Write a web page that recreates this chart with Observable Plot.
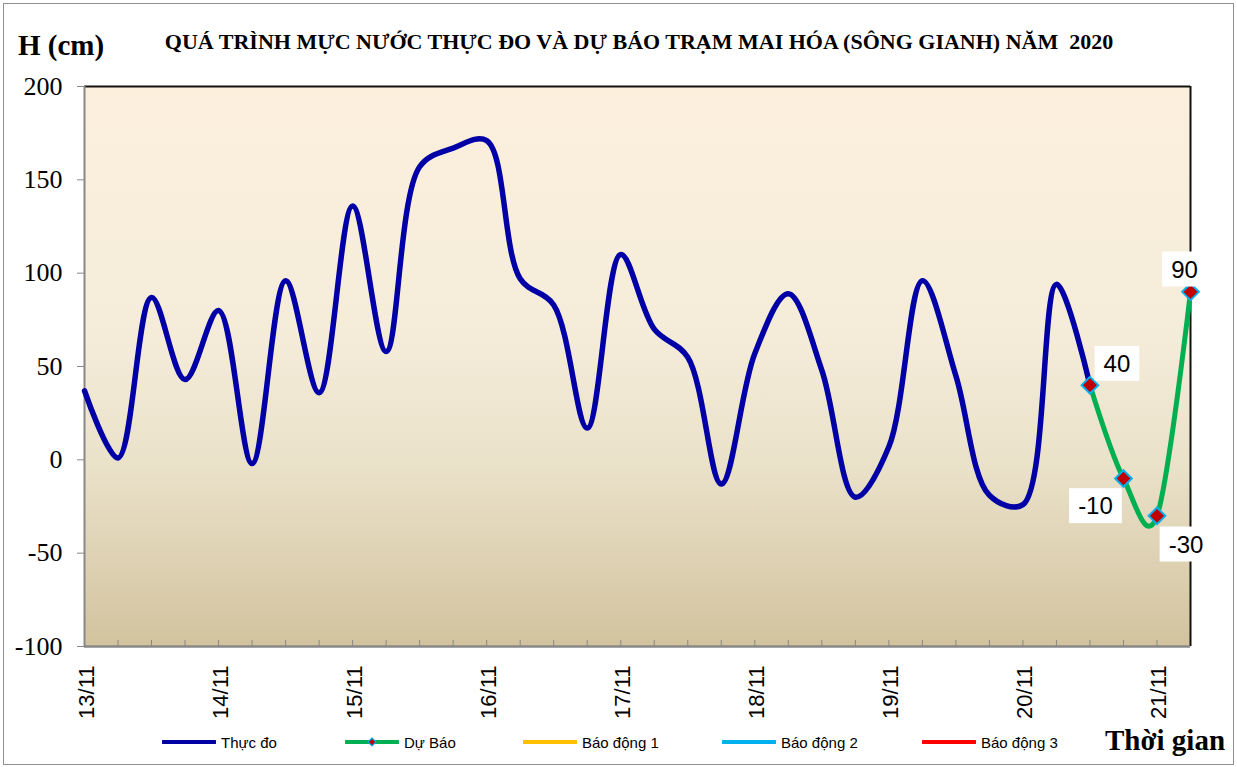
<!DOCTYPE html>
<html>
<head>
<meta charset="utf-8">
<script src="https://cdn.jsdelivr.net/npm/d3@7"></script>
<script src="https://cdn.jsdelivr.net/npm/@observablehq/plot@0.6"></script>
<style>
  body { margin: 0; background: #fff; }
  #wrap { position: relative; width: 1237px; height: 767px; overflow: hidden; background: #fff; }
  #frameBorder { position: absolute; left: 3px; top: 3px; width: 1231px; height: 762px; border: 1.5px solid #8f8f8f; box-sizing: border-box; pointer-events: none; }
  .serif { font-family: "Liberation Serif", "Times New Roman", serif; font-weight: bold; color: #000; line-height: 1; white-space: nowrap; position: absolute; }
  #ylabel { left: 18px; top: 31px; font-size: 29px; }
  #title { left: 639px; top: 31px; font-size: 22px; transform: translateX(-50%); }
  #chart { position: absolute; left: 0; top: 70px; }
  #legend { position: absolute; left: 0; top: 732px; width: 1237px; height: 20px; font-family: "Liberation Sans", Arial, sans-serif; font-size: 15px; color: #000; }
  .li { position: absolute; top: 0; height: 20px; display: flex; align-items: center; white-space: nowrap; }
  .li svg { margin-right: 5px; }
  #xlabel { left: 1105px; top: 726px; font-size: 29px; }
</style>
</head>
<body>
<svg width="0" height="0" style="position:absolute">
  <defs>
    <linearGradient id="bgGrad" x1="0" y1="0" x2="0" y2="1">
      <stop offset="0%" stop-color="#FCF0DD"/>
      <stop offset="45%" stop-color="#F4ECD9"/>
      <stop offset="68%" stop-color="#EAE1C9"/>
      <stop offset="100%" stop-color="#D2C39E"/>
    </linearGradient>
  </defs>
</svg>
<div id="wrap">
  <div id="ylabel" class="serif">H (cm)</div>
  <div id="title" class="serif">QUÁ TRÌNH MỰC NƯỚC THỰC ĐO VÀ DỰ BÁO TRẠM MAI HÓA (SÔNG GIANH) NĂM&nbsp; 2020</div>
  <div id="chart"></div>
  <div id="legend"></div>
  <div id="xlabel" class="serif">Thời gian</div>
  <div id="frameBorder"></div>
</div>
<script>
// ---- Data (6-hour steps starting 13/11 00h) ----
const dayLabels = ["13/11", "14/11", "15/11", "16/11", "17/11", "18/11", "19/11", "20/11", "21/11"];
const stepsPerDay = 4; // 6-hour steps
const observed = [37, 1, 87, 43, 80, -2, 96, 36, 136, 58, 157, 167, 171, 97, 83, 17,
                  110, 70, 55, -13, 57, 89, 48, -20, 7, 96, 45, -19, -24, 94, 40];
const forecastStart = 30; // step index of first forecast value (20/11 12h)
const forecast = [40, -10, -30, 90];
const yTicks = [-100, -50, 0, 50, 100, 150, 200];

const legendItems = [
  {name: "Thực đo", color: "#0000A6", marker: false, left: 162},
  {name: "Dự Báo", color: "#00B050", marker: true, left: 345},
  {name: "Báo động 1", color: "#FFC000", marker: false, left: 523},
  {name: "Báo động 2", color: "#00B0F0", marker: false, left: 722},
  {name: "Báo động 3", color: "#FF0000", marker: false, left: 922}
];

const obsData = observed.map((h, i) => ({step: i, h}));
const fcData = forecast.map((h, i) => ({step: forecastStart + i, h}));
const lastStep = (dayLabels.length - 1) * stepsPerDay + 1; // 33
const labelOffsets = [[27, -21], [-28, 28], [29, 29], [-6, -22]];

const plot = Plot.plot({
  width: 1237,
  height: 655,
  marginLeft: 84,
  marginRight: 47,
  marginTop: 16,
  marginBottom: 79,
  x: {domain: [0, lastStep]},
  y: {domain: [-100, 200]},
  style: {background: "transparent", overflow: "visible", fontFamily: "Liberation Serif, Times New Roman, serif", fontSize: "26px", color: "#000"},
  marks: [
    Plot.frame({fill: "url(#bgGrad)", stroke: null}),
    Plot.axisY({ticks: yTicks, tickSize: 7, tickPadding: 15, tickFormat: d => String(d), stroke: "#888", fill: "#000", label: null, fontSize: 26, fontFamily: "Liberation Serif, serif"}),
    Plot.axisX({ticks: d3.range(1, lastStep), tickSize: 6, dy: -6, tickFormat: () => "", stroke: "#888", label: null}),
    Plot.axisX({ticks: d3.range(0, lastStep, stepsPerDay), tickSize: 0, tickPadding: 19, tickRotate: -90,
                tickFormat: d => dayLabels[d / stepsPerDay], fill: "#000", label: null, dx: 2,
                fontSize: 22, fontFamily: "Liberation Sans, Arial, sans-serif"}),
    Plot.ruleY([200], {stroke: "#111", strokeWidth: 2}),
    Plot.ruleX([lastStep], {stroke: "#111", strokeWidth: 2}),
    Plot.ruleX([0], {stroke: "#888", strokeWidth: 2}),
    Plot.ruleY([-100], {stroke: "#888", strokeWidth: 2.5}),
    Plot.line(obsData, {x: "step", y: "h", curve: "catmull-rom", stroke: "#0000A6", strokeWidth: 5.5}),
    Plot.line(fcData, {x: "step", y: "h", curve: "cardinal", stroke: "#00B050", strokeWidth: 5}),
    Plot.dot(fcData, {x: "step", y: "h", symbol: "diamond2", r: 7.5, fill: "#C00000", stroke: "#00B0F0", strokeWidth: 2}),
    ...fcData.map((d, i) => Plot.text([d], {
      x: "step", y: "h", text: d => String(d.h),
      dx: labelOffsets[i][0], dy: labelOffsets[i][1],
      fontSize: 24, fontFamily: "Liberation Sans, Arial, sans-serif", fill: "#000"
    }))
  ]
});

document.getElementById("chart").appendChild(plot);

// white boxes behind forecast value labels
const svgNS = "http://www.w3.org/2000/svg";
plot.querySelectorAll('g[aria-label="text"] text').forEach(t => {
  const b = t.getBBox();
  const padX = 9, padY = 4;
  const r = document.createElementNS(svgNS, "rect");
  r.setAttribute("x", b.x - padX);
  r.setAttribute("y", b.y - padY);
  r.setAttribute("width", b.width + 2 * padX);
  r.setAttribute("height", b.height + 2 * padY);
  r.setAttribute("fill", "#fff");
  r.setAttribute("stroke", "none");
  const tr = t.getAttribute("transform");
  if (tr) r.setAttribute("transform", tr);
  t.parentNode.insertBefore(r, t);
});

// legend
const legend = document.getElementById("legend");
legendItems.forEach(it => {
  const div = document.createElement("div");
  div.className = "li";
  div.style.left = it.left + "px";
  const marker = it.marker
    ? `<path d="M27,6 L31,10 L27,14 L23,10 Z" fill="#C00000" stroke="#00B0F0" stroke-width="1.2"/>`
    : "";
  div.innerHTML = `<svg width="54" height="20"><line x1="1" y1="10" x2="53" y2="10" stroke="${it.color}" stroke-width="4" stroke-linecap="round"/>${marker}</svg><span>${it.name}</span>`;
  legend.appendChild(div);
});
</script>
</body>
</html>
